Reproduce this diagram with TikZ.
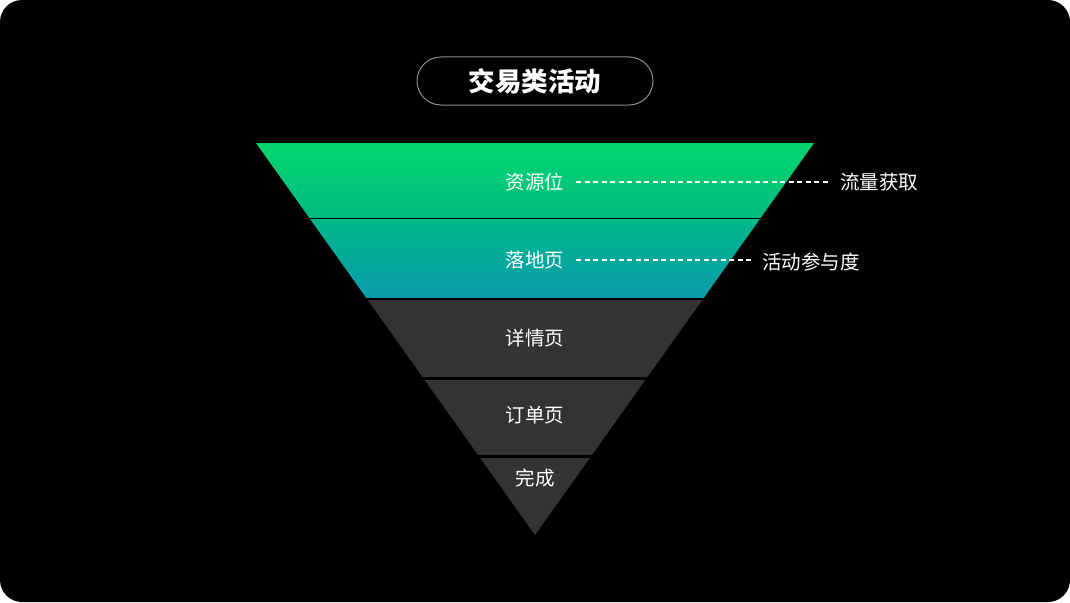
\documentclass[tikz,border=0pt]{standalone}
\usepackage{fontspec}
\setmainfont{Noto Sans CJK SC}
\definecolor{gA}{RGB}{4,214,110}
\definecolor{gB}{RGB}{0,188,128}
\definecolor{gC}{RGB}{0,184,138}
\definecolor{gD}{RGB}{10,156,170}
\definecolor{band}{RGB}{51,51,51}
\definecolor{pill}{RGB}{140,140,140}
\begin{document}
\begin{tikzpicture}[x=1pt,y=-1pt,
  lbl/.style={text=white,font=\fontsize{19.5}{22}\selectfont,inner sep=0pt},
  dashln/.style={draw=white,line width=1.4pt,dash pattern=on 5pt off 3.5pt}]
\useasboundingbox (0,0) rectangle (1070,602);
\fill[white] (0,0) rectangle (1070,602);
\fill[black,rounded corners=22pt] (0,0) rectangle (1070,602);
% title
\node[draw=pill,line width=1pt,rounded corners=24pt,minimum width=236pt,minimum height=48pt,text=white,
  font=\fontsize{26.5}{30}\selectfont\bfseries] (title) at (535,81) {交易类活动};
% funnel
\begin{scope}
\clip (256,143) -- (814,143) -- (535,535) -- cycle;
\shade[top color=gA,bottom color=gB] (250,143) rectangle (820,217);
\shade[top color=gC,bottom color=gD] (250,219.5) rectangle (820,297);
\fill[band] (250,299.5) rectangle (820,377);
\fill[band] (250,379.5) rectangle (820,455);
\fill[band] (250,457.5) rectangle (820,540);
\end{scope}
\node[lbl] (l1) at (535,182) {资源位};
\node[lbl] (l2) at (535,260) {落地页};
\node[lbl] (l3) at (535,338) {详情页};
\node[lbl] (l4) at (535,415) {订单页};
\node[lbl] (l5) at (535,478) {完成};
\node[lbl,anchor=west] (r1) at (840,182) {流量获取};
\node[lbl,anchor=west] (r2) at (762,262) {活动参与度};
\draw[dashln] ([xshift=12pt]l1.east) -- ([xshift=-10pt]r1.west |- l1.east);
\draw[dashln] ([xshift=12pt]l2.east) -- ([xshift=-10pt]r2.west |- l2.east);
\end{tikzpicture}
\end{document}
